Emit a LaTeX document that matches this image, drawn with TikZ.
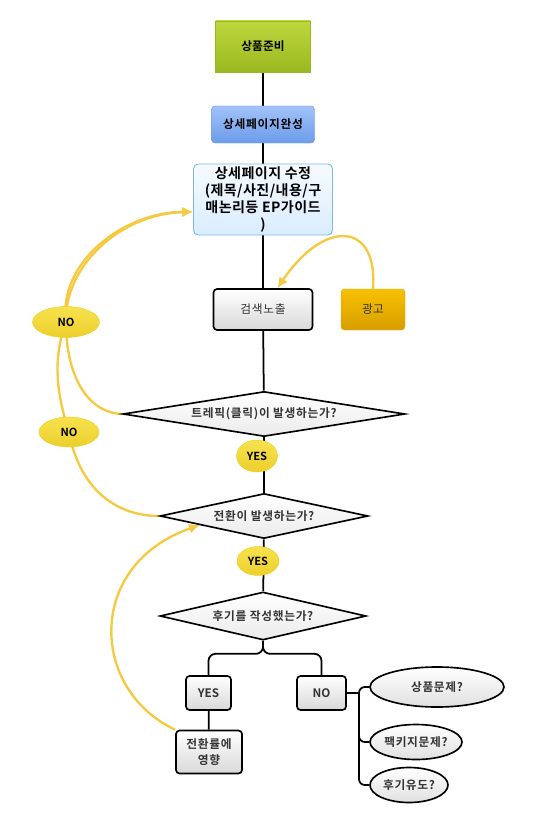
\documentclass[tikz,border=0pt]{standalone}
\usepackage{fontspec}
\setmainfont{Noto Sans CJK KR}[BoldFont={Noto Sans CJK KR Bold}]
\usepackage{tikz}
\usetikzlibrary{arrows.meta,shapes.geometric,backgrounds}
\definecolor{prepT}{HTML}{BDD83E}
\definecolor{prepB}{HTML}{9BB820}
\definecolor{pageT}{HTML}{A2C2F8}
\definecolor{pageB}{HTML}{6C9CEA}
\definecolor{pageD}{HTML}{6E9BE2}
\definecolor{editT}{HTML}{F7FBFF}
\definecolor{editB}{HTML}{D9ECFF}
\definecolor{editD}{HTML}{7DB9EE}
\definecolor{adT}{HTML}{F8C000}
\definecolor{adB}{HTML}{D79E00}
\definecolor{tagT}{HTML}{F6E24E}
\definecolor{tagB}{HTML}{EDCF2C}
\definecolor{hintY}{HTML}{F5C940}
\definecolor{ink}{HTML}{333333}
\newcommand{\spaced}{\addfontfeature{LetterSpace=6}}
\tikzset{
  prepbox/.style={draw=prepB, top color=prepT, bottom color=prepB, minimum width=2.85cm, minimum height=1.53cm, font=\fontsize{10}{12}\selectfont\bfseries},
  pagebox/.style={rounded corners=3pt, draw=pageD, top color=pageT, bottom color=pageB, minimum width=3.09cm, minimum height=1.11cm, font=\fontsize{10}{12}\selectfont\bfseries\spaced},
  editbox/.style={rounded corners=4pt, draw=editD, thick, top color=editT, bottom color=editB, align=center, minimum width=4.17cm, minimum height=2.13cm, inner sep=1pt, font=\fontsize{12}{14.5}\selectfont\bfseries\addfontfeature{LetterSpace=3}},
  graybox/.style={rounded corners=3pt, draw=black, line width=1.4pt, top color=white, bottom color=black!15, align=center, text=ink, font=\fontsize{10}{13}\selectfont\spaced},
  adbox/.style={rounded corners=3pt, draw=adB!90, top color=adT, bottom color=adB, minimum width=1.92cm, minimum height=1.23cm, text=ink, font=\fontsize{10}{12}\selectfont},
  tag/.style={ellipse, draw=tagB, top color=tagT, bottom color=tagB, inner sep=0pt, font=\fontsize{9.5}{11}\selectfont\bfseries},
  decision/.style={diamond, draw=black, line width=1.4pt, top color=white, bottom color=black!8, inner sep=0pt, aspect=6, text=ink, font=\fontsize{10}{12}\selectfont\bfseries\spaced},
  issue/.style={ellipse, draw=black, line width=1.4pt, top color=white, bottom color=black!12, inner sep=0pt, text=ink, font=\fontsize{10}{12}\selectfont\bfseries\spaced},
  link/.style={draw=black, line width=1.5pt},
  hint/.style={draw=hintY, line width=2pt},
  hintarrow/.style={hint, -{Latex[length=3.2mm,width=3mm]}}
}

\begin{document}
\begin{tikzpicture}[x=0.03cm, y=-0.03cm]
  \useasboundingbox (0,0) rectangle (541,815);

  \node[prepbox] (prep) at (263,46.5) {상품준비};
  \node[pagebox] (page) at (263,124.5) {상세페이지완성};
  \node[editbox] (edit) at (263,199.5) {상세페이지 수정\\(제목/사진/내용/구\\매논리등 EP가이드\\)};
  \node[graybox, minimum width=2.97cm, minimum height=1.23cm] (expose) at (263,309.5) {검색노출};
  \node[adbox] (ad) at (373,309.5) {광고};

  \node[decision, minimum width=8.46cm, minimum height=1.35cm] (click) at (264,414) {트레픽(클릭)이 발생하는가?};
  \node[decision, minimum width=6.24cm, minimum height=1.35cm] (convert) at (264,516) {전환이 발생하는가?};
  \node[decision, minimum width=6.18cm, minimum height=1.44cm] (review) at (263,616) {후기를 작성했는가?};

  \node[tag, minimum width=1.23cm, minimum height=0.96cm] (yes1) at (257,456) {YES};
  \node[tag, minimum width=1.26cm, minimum height=0.87cm] (yes2) at (258,561) {YES};
  \node[tag, minimum width=2.01cm, minimum height=0.93cm] (no1) at (66,322) {NO};
  \node[tag, minimum width=1.8cm, minimum height=0.9cm] (no2) at (69,432) {NO};

  \node[graybox, font=\fontsize{10}{12}\selectfont\bfseries, minimum width=1.35cm, minimum height=1.02cm] (yesbox) at (208.5,693) {YES};
  \node[graybox, font=\fontsize{10}{12}\selectfont\bfseries, minimum width=1.47cm, minimum height=1.02cm] (nobox) at (321.5,693) {NO};
  \node[graybox, font=\fontsize{10}{13}\selectfont\bfseries\spaced, minimum width=1.98cm, minimum height=1.29cm, inner sep=1pt] (effect) at (209,752) {전환률에\\영향};

  \node[issue, minimum width=4.02cm, minimum height=1.2cm] (goods) at (437,687) {상품문제?};
  \node[issue, minimum width=2.76cm, minimum height=1.05cm] (package) at (416,742) {팩키지문제?};
  \node[issue, minimum width=2.34cm, minimum height=1.05cm] (invite) at (409,785) {후기유도?};
  \coordinate (nobus) at (359,693);

  \begin{scope}[on background layer]
    \draw[link] (prep) -- (page);
    \draw[link] (page) -- (edit);
    \draw[link] (edit) -- (expose);
    \draw[link] (expose) -- (click);
    \draw[link] (click) -- (convert);
    \draw[link] (convert) -- (review);
    \draw[link, rounded corners=6pt] (review.south) -- ++(0,13) -| (yesbox.north);
    \draw[link, rounded corners=6pt] (review.south) -- ++(0,13) -| (nobox.north);
    \draw[link] (yesbox) -- (effect);
    \draw[link] (nobox.east) -- (nobus);
    \draw[link, rounded corners=5pt] (nobus) |- (goods.west);
    \draw[link, rounded corners=5pt] (nobus) |- (package.west);
    \draw[link, rounded corners=5pt] (nobus) |- (invite.west);

    % loops back to the page edit
    \draw[hintarrow] (click.west) .. controls (90,413) and (66,380) .. (no1.center)
      .. controls (64,268) and (118,214) .. (edit.190);
    \draw[hintarrow] (convert.west) .. controls (110,516) and (78,482) .. (no2.center)
      .. controls (57,395) and (52,360) .. (no1.center)
      .. controls (58,262) and (124,212) .. (edit.190);
    \draw[hintarrow] (ad.north) .. controls (378,222) and (325,218) .. (expose.56);
    \draw[hintarrow] (effect.north west) .. controls (90,690) and (85,565) .. (convert.188);
  \end{scope}
\end{tikzpicture}
\end{document}
